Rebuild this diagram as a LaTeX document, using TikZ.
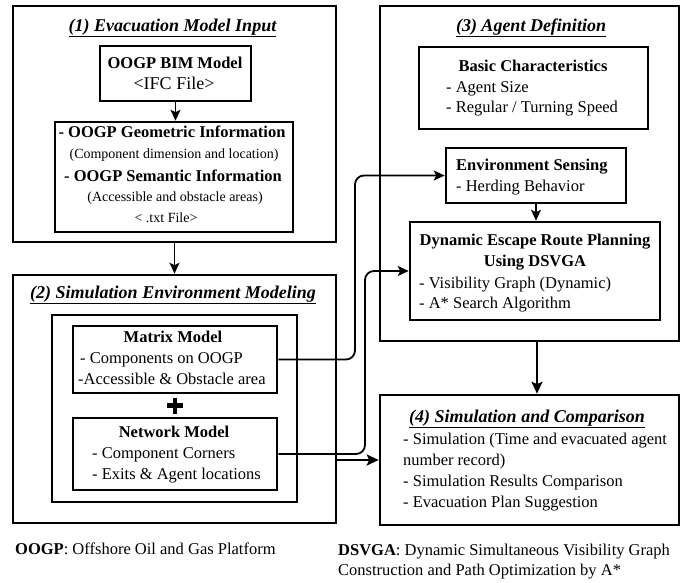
\documentclass[tikz,border=0pt]{standalone}
\usepackage{fontspec}
\setmainfont{Liberation Serif}
\usetikzlibrary{arrows.meta}
\tikzset{
  box/.style={draw, line width=2.6pt, inner sep=0pt},
  conn/.style={line width=1.8pt, -{Stealth[length=11pt,width=10pt,inset=2.5pt]}},
  thickconn/.style={line width=2.6pt, -{Stealth[length=12pt,width=11pt,inset=2.5pt]}},
  txt/.style={inner sep=0pt, font=\fontsize{16.5}{19}\selectfont},
  btxt/.style={inner sep=0pt, font=\fontsize{16.5}{19}\selectfont\bfseries},
  stxt/.style={inner sep=0pt, font=\fontsize{14}{16}\selectfont},
  ttl/.style={inner sep=0pt, font=\fontsize{18}{20}\selectfont\bfseries\itshape},
}
\newcommand{\myul}[1]{\underline{\smash{#1}\vphantom{p}}}
\begin{document}
\begin{tikzpicture}[x=1pt,y=-1pt]
\useasboundingbox (0,0) rectangle (682,582);
% boxes
\node[box, minimum width=323pt, minimum height=236pt] (b1) at (174.5,124) {};
\node[box, minimum width=151pt, minimum height=55pt] (bim) at (175.5,73.5) {};
\node[box, minimum width=238pt, minimum height=110pt] (info) at (174,177) {};
\node[box, minimum width=323pt, minimum height=248pt] (b2) at (174.5,399) {};
\node[box, minimum width=245pt, minimum height=187pt] (inner) at (174.5,408.5) {};
\node[box, minimum width=204pt, minimum height=67pt] (matrix) at (175,359.5) {};
\node[box, minimum width=204pt, minimum height=72pt] (network) at (175,454) {};
\node[box, minimum width=299pt, minimum height=335pt] (b3) at (529.5,173.5) {};
\node[box, minimum width=229pt, minimum height=82pt] (basic) at (533.5,88) {};
\node[box, minimum width=180pt, minimum height=55pt] (env) at (536,175.5) {};
\node[box, minimum width=250pt, minimum height=98pt] (dyn) at (535,271) {};
\node[box, minimum width=299pt, minimum height=130pt] (b4) at (529.5,460) {};
% box 1 texts
\node[ttl, anchor=base] (t1) at (172.5,31) {\underline{(1) Evacuation Model Input}};
\node[btxt, anchor=base] (bim1) at (175,68) {OOGP BIM Model};
\node[inner sep=0pt, font=\fontsize{18}{20}\selectfont, anchor=base] (bim2) at (174,89) {<IFC File>};
\node[btxt, anchor=base] (i1) at (172,137) {- OOGP Geometric Information};
\node[stxt, anchor=base] (i2) at (174,158) {(Component dimension and location)};
\node[btxt, anchor=base] (i3) at (173,181) {- OOGP Semantic Information};
\node[stxt, anchor=base] (i4) at (175,201) {(Accessible and obstacle areas)};
\node[stxt, anchor=base] (i5) at (166,222) {< .txt File>};
% box 2 texts
\node[ttl, anchor=base] (t2) at (173,298) {\underline{(2) Simulation Environment Modeling}};
\node[btxt, anchor=base] (m1) at (173,342) {Matrix Model};
\node[txt, anchor=base west] (m2) at (80,363) {- Components on OOGP};
\node[txt, anchor=base west] (m3) at (78,384) {-Accessible \& Obstacle area};
\node[btxt, anchor=base] (n1) at (174,437) {Network Model};
\node[txt, anchor=base west] (n2) at (92,458) {- Component Corners};
\node[txt, anchor=base west] (n3) at (92,479) {- Exits \& Agent locations};
\draw[line width=4.5pt] (167,405.5) -- (183,405.5) (175,397.5) -- (175,413.5);
% box 3 texts
\node[ttl, anchor=base] (t3) at (531,31) {\underline{(3) Agent Definition}};
\node[btxt, anchor=base] (c1) at (533,71) {Basic Characteristics};
\node[txt, anchor=base west] (c2) at (446,92) {- Agent Size};
\node[txt, anchor=base west] (c3) at (446,112) {- Regular / Turning Speed};
\node[btxt, anchor=base west] (e1) at (456,170) {Environment Sensing};
\node[txt, anchor=base west] (e2) at (456,191) {- Herding Behavior};
\node[btxt, anchor=base] (d1) at (535,245) {Dynamic Escape Route Planning};
\node[btxt, anchor=base] (d2) at (535,266) {Using DSVGA};
\node[txt, anchor=base west] (d3) at (419,288) {- Visibility Graph (Dynamic)};
\node[txt, anchor=base west] (d4) at (419,308) {- A* Search Algorithm};
% box 4 texts
\node[ttl, anchor=base] (t4) at (527,422) {\underline{(4) Simulation and Comparison}};
\node[txt, anchor=base west] (s1) at (403,444) {- Simulation (Time and evacuated agent};
\node[txt, anchor=base west] (s2) at (403,465) {number record)};
\node[txt, anchor=base west] (s3) at (403,486) {- Simulation Results Comparison};
\node[txt, anchor=base west] (s4) at (403,507) {- Evacuation Plan Suggestion};
% footnotes
\node[txt, anchor=base west] (f1) at (15,554) {\textbf{OOGP}: Offshore Oil and Gas Platform};
\node[txt, anchor=base west] (f2) at (338,555) {\textbf{DSVGA}: Dynamic Simultaneous Visibility Graph};
\node[txt, anchor=base west] (f3) at (338,575) {Construction and Path Optimization by A*};
% connectors
\draw[conn] (bim.south) -- (bim.south |- info.north);
\draw[conn] (b1.south) -- (b2.north);
\draw[conn] (env.south) -- (env.south |- dyn.north);
\draw[thickconn] ([xshift=7.5pt]b3.south) -- ([xshift=7.5pt]b4.north);
\draw[conn, rounded corners=9pt] (matrix.east) -- (355,359.5) |- (env.west);
\draw[conn, rounded corners=9pt] (network.east) -- (365,454) |- (dyn.west);
\draw[thickconn] (b2.east |- b4.west) -- (b4.west);
\end{tikzpicture}
\end{document}
